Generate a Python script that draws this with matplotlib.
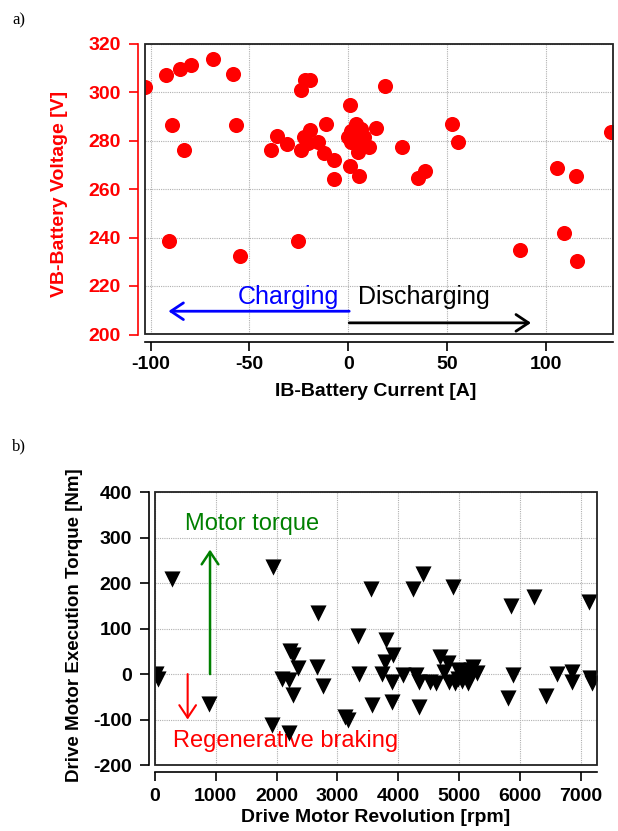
import matplotlib
matplotlib.use("Agg")
import matplotlib.pyplot as plt
from matplotlib.patches import Rectangle

plt.rcParams['font.family'] = ['Liberation Sans', 'DejaVu Sans']
plt.rcParams['axes.unicode_minus'] = False

# ---- Panel a) data: battery current [A] vs battery voltage [V]
ib_current = [-103, -92, -85, -79.5, -68.5, -58.5, -89, -57, -83, -90.5, -55, -25.5,
              -22, -19.5, -24, 18.5, 1, -11, -36, -39, -31, -24, -22.3, -19.5, -15.5,
              -20.5, -12.5, -7, -7, 1, 5.5, 1.4, 3.9, 6.4, 1.4, 4.7, 8.1, 10.6, 4.7,
              -0.2, 7.2, 3.0, 14, 27, 52.5, 55.5, 35.5, 39, 105.5, 115.5, 133, 109, 87, 116]
vb_voltage = [302, 307, 309.5, 311, 313.5, 307.5, 286.5, 286.5, 276, 238.5, 232.5, 238.5,
              305, 304.8, 301, 302.5, 294.5, 287, 282, 276, 278.6, 276, 281.5, 284.5, 279.3,
              279, 275, 272, 264, 269.5, 265.5, 284.1, 286.8, 284.8, 279.3, 278.6, 281.3, 277.2,
              275.2, 281.3, 277.9, 282.6, 285, 277.5, 287, 279.5, 264.5, 267.5, 268.8, 265.5,
              283.5, 241.8, 235, 230.5]

# ---- Panel b) data: motor revolution [rpm] vs execution torque [Nm]
motor_rpm = [20, 50, 275, 895, 1935, 1920, 2210, 2220, 2275, 2085, 2210, 2360, 2275, 2686,
             2660, 2760, 3125, 3180, 3345, 3355, 3553, 3575, 3800, 3783, 3910, 3740, 3893,
             3893, 4075, 4238, 4413, 4293, 4348, 4348, 4523, 4622, 4688, 4825, 4896, 4840,
             4934, 4990, 5071, 5153, 5236, 5290, 5181, 5855, 5893, 5811, 6234, 6426, 6607,
             6853, 6853, 7143, 7155, 7180, 4750, 4980, 5050, 5200]
motor_torque = [0, -10, 210, -65, 236, -112, -130, 50, 42, -10, -12, 13, -46, 135,
                16, -26, -94, -101, 84, 0, 188, -68, 75, 27, 42, 0, -17,
                -61, -2, 187, 221, -2, -17, -72, -17, -20, 38, 25, 192, -17,
                -20, 9, 2, -20, 16, 2, -6, 150, -2, -53, 170, -48, 0,
                5, -17, 159, -9, -20, 5, -10, -15, 10]

a_xticks = [-100, -50, 0, 50, 100]
a_yticks = [200, 220, 240, 260, 280, 300, 320]
b_xticks = [0, 1000, 2000, 3000, 4000, 5000, 6000, 7000]
b_yticks = [-200, -100, 0, 100, 200, 300, 400]

W, H = 618, 831
fig = plt.figure(figsize=(W / 100, H / 100), dpi=100)

def px_axes(l, t, r, b):
    return fig.add_axes([l / W, 1 - b / H, (r - l) / W, (b - t) / H])

def style(ax, offx, offy, ycolor):
    for s in ('top', 'right'):
        ax.spines[s].set_visible(False)
    ax.spines['left'].set_position(('outward', offy))
    ax.spines['bottom'].set_position(('outward', offx))
    ax.spines['left'].set_color(ycolor)
    ax.spines['left'].set_linewidth(1.2)
    ax.spines['bottom'].set_linewidth(1.2)
    ax.add_patch(Rectangle((0, 0), 1, 1, transform=ax.transAxes, fill=False,
                           lw=1.3, ec='#222222', clip_on=False, zorder=6))
    ax.grid(True, color='#b0b0b0', lw=0.8, ls=(0, (1, 1)))
    ax.set_axisbelow(True)

def arrow(ax, start, end, color, lw):
    ax.annotate('', xy=end, xytext=start,
                arrowprops=dict(arrowstyle='->,head_length=0.9,head_width=0.6', color=color,
                                lw=lw, shrinkA=0, shrinkB=0, mutation_scale=10))

# ---------------- Panel a ----------------
ax1 = px_axes(144.7, 43.5, 613, 334.5)
style(ax1, 5.2, 4.9, 'red')
ax1.scatter(ib_current, vb_voltage, s=118, c='#ff0000', linewidths=0, zorder=3)
ax1.set_xlim(-103, 134)
ax1.set_ylim(200, 320)
ax1.set_xticks(a_xticks)
ax1.set_yticks(a_yticks)
ax1.tick_params(axis='y', colors='red', direction='out', length=6.5, width=1.2, pad=6,
                labelsize=14)
ax1.tick_params(axis='x', colors='black', direction='out', length=6.5, width=1.2, pad=4,
                labelsize=14)
for lab in ax1.get_xticklabels() + ax1.get_yticklabels():
    lab.set_fontweight('bold')
ax1.set_ylabel('VB-Battery Voltage [V]', color='red', fontsize=14, fontweight='bold')
ax1.yaxis.set_label_coords(-0.163, 0.484)
ax1.set_xlabel('IB-Battery Current [A]', color='black', fontsize=14, fontweight='bold')
ax1.xaxis.set_label_coords(0.4935, -0.167)

ax1.text(-56, 212.6, 'Charging', color='blue', fontsize=18, ha='left', va='baseline')
ax1.text(5.1, 212.6, 'Discharging', color='black', fontsize=18, ha='left', va='baseline')
arrow(ax1, (0.5, 209.6), (-91, 209.6), 'blue', 2.0)
arrow(ax1, (0.5, 204.8), (92.5, 204.8), 'black', 2.0)

# ---------------- Panel b ----------------
ax2 = px_axes(155, 492.3, 597.3, 765)
style(ax2, 4.8, 4.3, 'black')
ax2.scatter(motor_rpm, motor_torque, s=135, marker='v', c='black', linewidths=0, zorder=3)
ax2.set_xlim(0, 7275)
ax2.set_ylim(-200, 400)
ax2.set_xticks(b_xticks)
ax2.set_yticks(b_yticks)
ax2.tick_params(axis='y', direction='out', length=6.5, width=1.2, pad=6, labelsize=14)
ax2.tick_params(axis='x', direction='out', length=6.5, width=1.2, pad=5, labelsize=14)
for lab in ax2.get_xticklabels() + ax2.get_yticklabels():
    lab.set_fontweight('bold')
ax2.set_ylabel('Drive Motor Execution Torque [Nm]', fontsize=13.5, fontweight='bold')
ax2.yaxis.set_label_coords(-0.163, 0.513)
ax2.set_xlabel('Drive Motor Revolution [rpm]', fontsize=14, fontweight='bold')
ax2.xaxis.set_label_coords(0.4985, -0.161)

ax2.text(493, 318, 'Motor torque', color='green', fontsize=17, ha='left', va='baseline',
         zorder=2)
ax2.text(301, -160, 'Regenerative braking', color='red', fontsize=17, ha='left',
         va='baseline', zorder=2)
arrow(ax2, (905, 0), (905, 274), 'green', 1.8)
arrow(ax2, (537, 0), (537, -100), 'red', 1.5)

# panel labels
fig.text(12 / W, 1 - 20 / H, 'a)', family=['Liberation Serif', 'DejaVu Serif'],
         fontsize=12, ha='left', va='center')
fig.text(12 / W, 1 - 446 / H, 'b)', family=['Liberation Serif', 'DejaVu Serif'],
         fontsize=12, ha='left', va='center')

fig.savefig('out.png', dpi=100)
